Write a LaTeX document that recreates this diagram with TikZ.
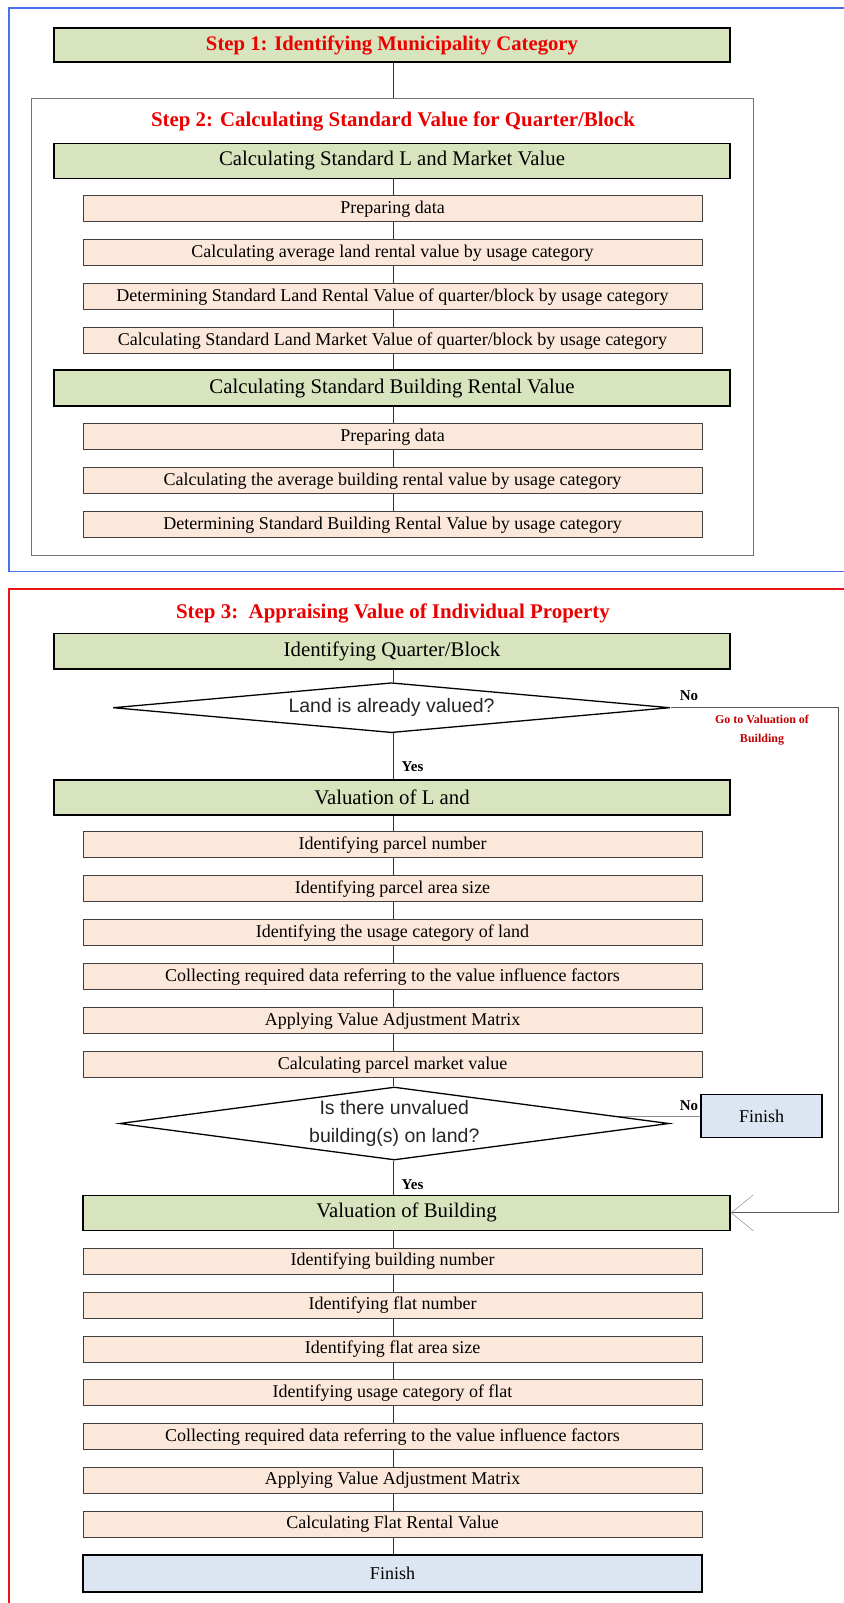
\documentclass[tikz,border=0pt]{standalone}
\usepackage{fontspec}
\setmainfont{Liberation Serif}
\newfontfamily\sansdiag{Liberation Sans}
\usetikzlibrary{shapes.geometric,arrows.meta,backgrounds}

\definecolor{stagegreen}{RGB}{215,228,189}
\definecolor{taskpink}{RGB}{252,232,218}
\definecolor{endblue}{RGB}{220,230,242}
\definecolor{frameblue}{RGB}{70,112,240}
\definecolor{framered}{RGB}{232,20,20}
\definecolor{titlered}{RGB}{235,0,0}
\definecolor{notered}{RGB}{192,0,0}

\begin{document}
\begin{tikzpicture}[x=1pt,y=-1pt,
  stage/.style={draw=black, line width=1.6pt, fill=stagegreen, minimum width=676pt,
    inner sep=0pt, anchor=north, font=\fontsize{20.8}{24}\selectfont},
  task/.style={draw=black!75, line width=0.9pt, fill=taskpink, minimum width=619pt,
    minimum height=26pt, inner sep=0pt, anchor=north, font=\fontsize{18}{20}\selectfont},
  steptitle/.style={inner sep=0pt, text=titlered, font=\bfseries\fontsize{20.9}{24}\selectfont},
  decision/.style={diamond, draw=black, line width=1.3pt, fill=white, inner sep=0pt,
    align=center, text=black!85, font=\sansdiag\fontsize{19.5}{28}\selectfont},
  endbox/.style={draw=black, fill=endblue, inner sep=0pt, font=\fontsize{18}{20}\selectfont},
  answer/.style={inner sep=0pt, font=\bfseries\fontsize{15}{17}\selectfont},
  note/.style={inner sep=0pt, align=center, text=notered, font=\bfseries\fontsize{12}{18.3}\selectfont},
  conn/.style={draw=black!80, line width=0.7pt},
  loopline/.style={draw=black!65, line width=0.8pt}
]
\useasboundingbox (0,0) rectangle (843,1603);

% outer frames of the two parts
\draw[frameblue, line width=1.2pt] (850,8) -- (9,8) -- (9,571.5) -- (850,571.5);
\draw[framered, line width=1.2pt] (850,589) -- (9,589) -- (9,1610);

% axis of the vertical flow and of the return line
\coordinate (ax) at (393.5,0);
\coordinate (lx) at (838,0);

% ---- Step 1 ----
\node[stage, minimum height=34.5pt, text=titlered, font=\bfseries\fontsize{20.7}{24}\selectfont]
  (s1) at (392,27) {Step 1: Identifying Municipality Category};

% ---- Step 2 ----
\node[draw=black!55, line width=0.8pt, minimum width=722pt, minimum height=457.5pt,
  inner sep=0pt, anchor=north west] (fr2) at (31,97.5) {};
\node[steptitle] (t2) at (393,121.5) {Step 2: Calculating Standard Value for Quarter/Block};
\node[stage, minimum height=35pt] (g1) at (392,142.5) {Calculating Standard L and Market Value};
\node[task] (a1) at (392.5,195.3) {Preparing data};
\node[task] (a2) at (392.5,239.3) {Calculating average land rental value by usage category};
\node[task] (a3) at (392.5,283.3) {Determining Standard Land Rental Value of quarter/block by usage category};
\node[task] (a4) at (392.5,327.3) {Calculating Standard Land Market Value of quarter/block by usage category};
\node[stage, minimum height=36pt] (g2) at (392,369.3) {Calculating Standard Building Rental Value};
\node[task] (b1) at (392.5,423.3) {Preparing data};
\node[task] (b2) at (392.5,467.3) {Calculating the average building rental value by usage category};
\node[task] (b3) at (392.5,511.3) {Determining Standard Building Rental Value by usage category};

% ---- Step 3 ----
\node[steptitle] (t3) at (393,613) {Step 3:\ \ Appraising Value of Individual Property};
\node[stage, minimum height=35.5pt] (q) at (392,632.7) {Identifying Quarter/Block};
\node[decision, minimum width=557pt, minimum height=50pt, aspect=11] (d1) at (391.5,707.7)
  {Land is already valued?};
\node[answer] (no1) at (689,695.5) {No};
\node[note] (goto) at (762,730) {Go to Valuation of\\Building};
\node[answer] (yes1) at (412.5,767) {Yes};

\node[stage, minimum height=34.7pt] (vl) at (392,779.3) {Valuation of L and};
\node[task] (l1) at (392.5,831.3) {Identifying parcel number};
\node[task] (l2) at (392.5,875.3) {Identifying parcel area size};
\node[task] (l3) at (392.5,919.3) {Identifying the usage category of land};
\node[task] (l4) at (392.5,963.3) {Collecting required data referring to the value influence factors};
\node[task] (l5) at (392.5,1007.3) {Applying Value Adjustment Matrix};
\node[task] (l6) at (392.5,1051.3) {Calculating parcel market value};

\node[decision, minimum width=549.5pt, minimum height=73pt, aspect=7.5] (d2) at (394.3,1123.5)
  {Is there unvalued\\building(s) on land?};
\node[answer] (no2) at (689,1106) {No};
\node[endbox, line width=1.3pt, minimum width=121pt, minimum height=43.5pt] (f1) at (761.5,1116) {Finish};
\node[answer] (yes2) at (412.5,1185) {Yes};

\node[stage, minimum width=647pt, minimum height=35pt] (vb) at (406.5,1194.5) {Valuation of Building};
\node[task] (m1) at (392.5,1248) {Identifying building number};
\node[task] (m2) at (392.5,1291.8) {Identifying flat number};
\node[task] (m3) at (392.5,1335.6) {Identifying flat area size};
\node[task] (m4) at (392.5,1379.4) {Identifying usage category of flat};
\node[task] (m5) at (392.5,1423.2) {Collecting required data referring to the value influence factors};
\node[task] (m6) at (392.5,1467) {Applying Value Adjustment Matrix};
\node[task] (m7) at (392.5,1510.8) {Calculating Flat Rental Value};
\node[endbox, line width=1.6pt, minimum width=619pt, minimum height=37pt, anchor=north] (fin) at (392.5,1554) {Finish};

% ---- connectors ----
\begin{scope}[on background layer]
  \draw[conn] (s1.south -| ax) -- (fr2.north -| ax);
  \foreach \u/\v in {g1/a1,a1/a2,a2/a3,a3/a4,a4/g2,g2/b1,b1/b2,b2/b3,
                     q/d1,d1/vl,vl/l1,l1/l2,l2/l3,l3/l4,l4/l5,l5/l6,l6/d2,d2/vb,
                     vb/m1,m1/m2,m2/m3,m3/m4,m4/m5,m5/m6,m6/m7,m7/fin}
    \draw[conn] (\u.south -| ax) -- (\v.north -| ax);
  \draw[conn, draw=black!45] (f1.west) -- (f1.west -| d2.center);
  \draw[loopline, -{Straight Barb[length=22pt,width=36pt,line width=0.6pt,color=black!40]}]
    (d1.east) -- (d1.east -| lx) -- (vb.east -| lx) -- (vb.east);
\end{scope}
\end{tikzpicture}
\end{document}
